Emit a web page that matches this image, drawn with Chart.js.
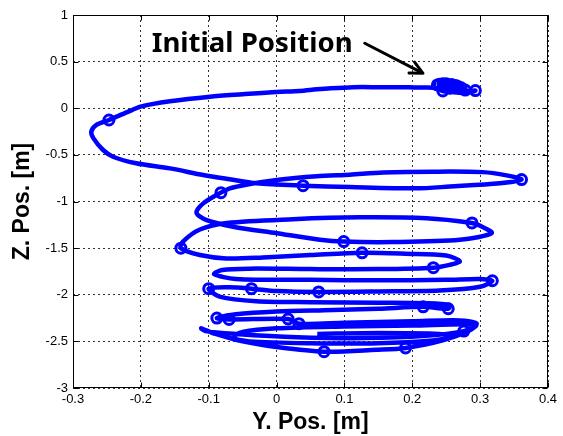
<!DOCTYPE html>
<html>
<head>
<meta charset="utf-8">
<script src="https://cdn.jsdelivr.net/npm/chart.js@4/dist/chart.umd.min.js"></script>
<style>
html,body{margin:0;padding:0;background:#fff;}
#wrap{width:563px;height:436px;position:relative;}
</style>
</head>
<body>
<div id="wrap"><canvas id="c" width="563" height="436"></canvas></div>
<script>
// Trajectory (Y position, Z position) in metres
const PATH_Y = [0.237,0.245,0.258,0.268,0.275,0.280,0.293,0.285,0.270,0.255,0.245,0.235,0.220,
  0.196,0.150,0.113,0.080,0.059,0.034,0.000,-0.050,-0.098,-0.157,-0.199,-0.221,-0.247,-0.266,-0.273,-0.270,-0.256,-0.241,-0.207,-0.157,-0.108,-0.069,-0.030,
  0.039,0.108,0.206,0.255,0.329,0.361,0.339,0.304,0.230,0.157,0.108,0.059,0.000,-0.045,-0.069,-0.082,
  -0.108,-0.118,-0.103,-0.064,0.000,0.064,0.099,0.171,0.270,0.317,0.300,0.288,0.221,0.122,0.024,-0.073,-0.113,-0.138,-0.141,
  -0.113,-0.074,-0.020,0.050,0.126,0.190,0.250,0.270,0.255,0.231,0.150,0.050,-0.040,-0.080,-0.092,
  -0.060,0.050,0.150,0.250,0.300,0.318,0.300,0.240,0.150,0.062,0.000,-0.037,-0.070,-0.100,
  -0.084,-0.030,0.050,0.150,0.220,0.255,0.253,0.216,0.150,0.070,0.000,-0.060,-0.088,-0.070,0.017,0.033,
  0.100,0.200,0.270,0.295,0.276,0.220,0.130,0.030,-0.060,-0.105,-0.111,
  -0.090,-0.050,0.000,0.070,0.147,0.190,0.245,0.285,0.294,
  0.200,0.100,0.000,-0.050,-0.065,-0.040,0.050,0.150,0.230,0.260,0.240,0.150,0.060];
const PATH_Z = [0.250,0.265,0.258,0.235,0.205,0.185,0.190,0.170,0.165,0.175,0.185,0.215,0.222,
  0.224,0.226,0.226,0.215,0.203,0.185,0.175,0.150,0.124,0.075,0.020,-0.045,-0.126,-0.180,-0.250,-0.320,-0.445,-0.520,-0.590,-0.645,-0.716,-0.762,-0.805,
  -0.830,-0.845,-0.859,-0.840,-0.805,-0.765,-0.720,-0.685,-0.680,-0.690,-0.712,-0.730,-0.770,-0.820,-0.860,-0.905,
  -1.020,-1.120,-1.200,-1.270,-1.340,-1.410,-1.430,-1.435,-1.410,-1.340,-1.260,-1.230,-1.180,-1.170,-1.190,-1.230,-1.300,-1.430,-1.500,
  -1.574,-1.610,-1.600,-1.575,-1.550,-1.560,-1.580,-1.640,-1.680,-1.710,-1.725,-1.725,-1.720,-1.735,-1.780,
  -1.830,-1.840,-1.845,-1.840,-1.830,-1.850,-1.915,-1.955,-1.965,-1.970,-1.960,-1.935,-1.920,-1.935,
  -2.020,-2.070,-2.080,-2.085,-2.090,-2.110,-2.150,-2.130,-2.150,-2.165,-2.180,-2.210,-2.250,-2.265,-2.260,-2.310,
  -2.300,-2.285,-2.275,-2.310,-2.390,-2.440,-2.465,-2.455,-2.420,-2.390,-2.360,
  -2.420,-2.500,-2.560,-2.610,-2.590,-2.570,-2.490,-2.380,-2.320,
  -2.330,-2.340,-2.360,-2.400,-2.460,-2.500,-2.520,-2.520,-2.490,-2.450,-2.420,-2.410,-2.420];
// Sample markers
const MARK_Y = [0.237,0.240,0.245,0.250,0.255,0.258,0.262,0.265,0.268,0.272,0.278,0.255,0.245,0.293,
  -0.247,0.039,0.361,-0.082,0.099,0.288,-0.141,0.126,0.231,0.318,-0.100,-0.037,0.062,0.216,0.253,-0.088,-0.070,0.017,0.033,0.276,0.190,0.070];
const MARK_Z = [0.250,0.258,0.262,0.262,0.250,0.255,0.245,0.240,0.230,0.220,0.195,0.215,0.185,0.190,
  -0.126,-0.830,-0.765,-0.905,-1.430,-1.230,-1.500,-1.550,-1.710,-1.850,-1.935,-1.935,-1.970,-2.130,-2.150,-2.250,-2.265,-2.260,-2.310,-2.390,-2.570,-2.610];
// Axis ticks
const X_TICKS = [-0.3,-0.2,-0.1,0,0.1,0.2,0.3,0.4];
const X_TICK_LABELS = ['-0.3','-0.2','-0.1','0','0.1','0.2','0.3','0.4'];
const Y_TICKS = [-3,-2.5,-2,-1.5,-1,-0.5,0,0.5,1];
const Y_TICK_LABELS = ['-3','-2.5','-2','-1.5','-1','-0.5','0','0.5','1'];
const X_TITLE = 'Y. Pos. [m]';
const Y_TITLE = 'Z. Pos. [m]';
const NOTE_TEXT = 'Initial Position';

const ANNOT = { textX: -0.036, textY: 0.606, textWidth: 201,
  arrowFrom: [0.130, 0.697], arrowTo: [0.2158, 0.375] };

const pathData = PATH_Y.map((v,i)=>({x:v, y:PATH_Z[i]}));
const markData = MARK_Y.map((v,i)=>({x:v, y:MARK_Z[i]}));

const FONT = "'Liberation Sans', Arial, sans-serif";

const framePlugin = {
  id: 'frame',
  afterDraw(chart){
    const {ctx, chartArea:a, scales:{x, y}} = chart;
    ctx.save();
    ctx.strokeStyle = '#000';
    ctx.lineWidth = 1;
    const L = Math.round(a.left)+0.5, R = Math.round(a.right)-0.5, T = Math.round(a.top)+0.5, B = Math.round(a.bottom)-0.5;
    ctx.strokeRect(L, T, R-L, B-T);
    ctx.beginPath();
    X_TICKS.forEach(v=>{
      const p = Math.round(x.getPixelForValue(v))+0.5;
      ctx.moveTo(p, B); ctx.lineTo(p, B-5);
      ctx.moveTo(p, T); ctx.lineTo(p, T+5);
    });
    Y_TICKS.forEach(v=>{
      const p = Math.round(y.getPixelForValue(v))+0.5;
      ctx.moveTo(L, p); ctx.lineTo(L+5, p);
      ctx.moveTo(R, p); ctx.lineTo(R-5, p);
    });
    ctx.stroke();

    // annotation
    ctx.fillStyle = '#000';
    ctx.font = "bold 100px 'Noto Sans', sans-serif";
    const w100 = ctx.measureText(NOTE_TEXT).width;
    const fs = 100 * ANNOT.textWidth / w100;
    ctx.font = "bold " + fs.toFixed(2) + "px 'Noto Sans', sans-serif";
    ctx.textAlign = 'center';
    ctx.textBaseline = 'alphabetic';
    ctx.fillText(NOTE_TEXT, x.getPixelForValue(ANNOT.textX), y.getPixelForValue(ANNOT.textY));

    const x1 = x.getPixelForValue(ANNOT.arrowFrom[0]), y1 = y.getPixelForValue(ANNOT.arrowFrom[1]);
    const x2 = x.getPixelForValue(ANNOT.arrowTo[0]), y2 = y.getPixelForValue(ANNOT.arrowTo[1]);
    const ang = Math.atan2(y2-y1, x2-x1);
    ctx.strokeStyle = '#000';
    ctx.lineWidth = 3;
    ctx.lineCap = 'round';
    ctx.lineJoin = 'round';
    ctx.beginPath();
    ctx.moveTo(x1, y1); ctx.lineTo(x2-2*Math.cos(ang), y2-2*Math.sin(ang));
    ctx.stroke();
    const hl = 14, ha = 0.45;
    ctx.beginPath();
    ctx.moveTo(x2 - hl*Math.cos(ang-ha), y2 - hl*Math.sin(ang-ha));
    ctx.lineTo(x2, y2);
    ctx.lineTo(x2 - hl*Math.cos(ang+ha), y2 - hl*Math.sin(ang+ha));
    ctx.stroke();
    ctx.restore();
  }
};

new Chart(document.getElementById('c'), {
  type: 'scatter',
  data: {
    datasets: [
      { data: pathData, showLine: true, borderColor: '#0000ff', borderWidth: 4.5, pointRadius: 0,
        tension: 0.3, fill: false, order: 2 },
      { data: markData, showLine: false, pointRadius: 5, pointBorderWidth: 3,
        pointBorderColor: '#0000ff', pointBackgroundColor: 'rgba(0,0,0,0)', pointStyle: 'circle', order: 1 }
    ]
  },
  options: {
    responsive: false,
    animation: false,
    events: [],
    layout: { padding: { top: 15, right: 15, left: 0, bottom: 0 } },
    plugins: { legend: { display: false }, tooltip: { enabled: false } },
    scales: {
      x: {
        type: 'linear', min: -0.3, max: 0.4,
        afterBuildTicks: s => { s.ticks = X_TICKS.map(v => ({value: v})); },
        afterFit: s => { s.height = 48; },
        ticks: { callback: (v) => X_TICK_LABELS[X_TICKS.findIndex(t => Math.abs(t - v) < 1e-9)],
          color: '#000', padding: 4, maxRotation: 0, autoSkip: false, font: { family: FONT, size: 13 } },
        grid: { color: '#333', lineWidth: 1, drawTicks: false },
        border: { display: false, dash: [2, 3] },
        title: { display: true, text: X_TITLE, color: '#000', padding: { top: 0, bottom: 0 },
          font: { family: FONT, size: 23, weight: 'bold', lineHeight: 1.2 } }
      },
      y: {
        type: 'linear', min: -3, max: 1,
        afterBuildTicks: s => { s.ticks = Y_TICKS.map(v => ({value: v})); },
        afterFit: s => { s.width = 73; },
        ticks: { callback: (v) => Y_TICK_LABELS[Y_TICKS.findIndex(t => Math.abs(t - v) < 1e-9)],
          color: '#000', padding: 5, autoSkip: false, font: { family: FONT, size: 13 } },
        grid: { color: '#333', lineWidth: 1, drawTicks: false },
        border: { display: false, dash: [2, 3] },
        title: { display: true, text: Y_TITLE, color: '#000', padding: { top: 9, bottom: 0 },
          font: { family: FONT, size: 23, weight: 'bold', lineHeight: 1.2 } }
      }
    }
  },
  plugins: [framePlugin]
});
</script>
</body>
</html>
